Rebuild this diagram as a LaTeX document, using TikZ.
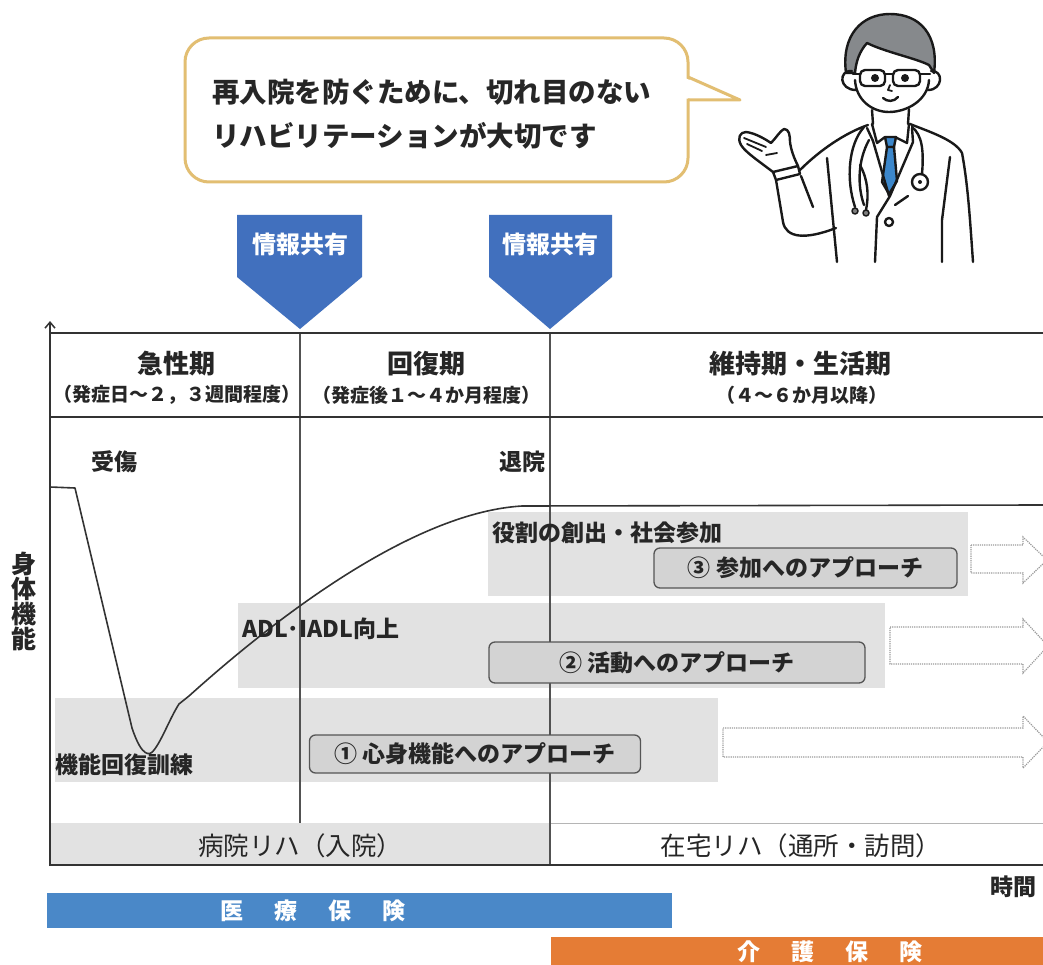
\documentclass[tikz,border=0pt]{standalone}
\usepackage{fontspec}
\setmainfont{Noto Sans CJK JP}
\usetikzlibrary{arrows.meta}

\definecolor{inkc}{HTML}{262626}
\definecolor{bubbleedge}{HTML}{E2BE72}
\definecolor{markblue}{HTML}{4170BE}
\definecolor{medblue}{HTML}{4A88C8}
\definecolor{careorange}{HTML}{E57C35}
\definecolor{bandgray}{HTML}{E2E2E2}
\definecolor{boxgray}{HTML}{D3D3D3}
\definecolor{boxedge}{HTML}{555555}
\definecolor{framec}{HTML}{333333}
\definecolor{hairgray}{HTML}{86898C}
\definecolor{tieblue}{HTML}{3C87CB}
\definecolor{arrowdot}{HTML}{9A9A9A}

\newcommand\setfs[1]{\fontsize{#1}{#1}\selectfont}

\tikzset{
  bubble/.style={draw=bubbleedge, line width=3pt, line join=round},
  bubtext/.style={inner sep=0pt, anchor=west, text=inkc, font=\bfseries\setfs{27.5}},
  marktext/.style={inner sep=0pt, text=white, font=\bfseries\setfs{24}},
  hdr/.style={inner sep=0pt, text=inkc, font=\bfseries\setfs{26}},
  subhdr/.style={inner sep=0pt, text=inkc, font=\bfseries\setfs{19}},
  lbl/.style={inner sep=0pt, text=inkc, font=\bfseries\setfs{23}},
  bottomlbl/.style={inner sep=0pt, text=inkc, font=\setfs{25.5}},
  band/.style={fill=bandgray},
  apbox/.style={draw=boxedge, fill=boxgray, rounded corners=6pt, line width=1.3pt,
    inner sep=0pt, text=inkc, font=\bfseries\setfs{23}},
  frameline/.style={draw=framec, line width=2pt},
  divider/.style={draw=framec!85, line width=1.3pt},
  curveline/.style={draw=framec, line width=1.6pt, line join=round},
  dotarrow/.style={draw=arrowdot, densely dotted, line width=1.2pt, fill=white},
  insbar/.style={inner sep=0pt, text=white, font=\bfseries\setfs{23}},
  doc/.style={line width=2.4pt, line cap=round, line join=round, draw=black!90},
}

\begin{document}
\begin{tikzpicture}[x=1pt,y=-1pt]
\useasboundingbox (0,0) rectangle (1043,965);
\clip (0,0) rectangle (1043,965);
\fill[white] (0,0) rectangle (1043,965);

% ---------- speech bubble ----------
\draw[bubble, rounded corners=24pt] (185,38) rectangle (688,182);
\fill[white] (686,78.5) -- (740,100) -- (686,98.5) -- cycle;
\draw[bubble] (688,77) -- (740,100) -- (688,100);
\node[bubtext] (bub1) at (212,92) {再入院を防ぐために、切れ目のない};
\node[bubtext] (bub2) at (212,136) {リハビリテーションが大切です};

% ---------- doctor ----------
\begin{scope}[doc]
  % hair
  \filldraw[fill=hairgray] (846,73) .. controls (841,35) and (862,14) .. (890,14)
     .. controls (920,14) and (939,35) .. (934,73) -- (929,65)
     .. controls (915,58) and (885,52) .. (867,43)
     .. controls (859,52) and (856,62) .. (855,73) -- cycle;
  % jaw and ears
  \draw (855,80) .. controls (856,100) and (872,112) .. (889,112)
        .. controls (907,112) and (928,100) .. (929,80);
  \draw (852,71) .. controls (838,70) and (839,90) .. (856,90);
  \draw (931,71) .. controls (944,70) and (943,90) .. (928,90);
  % glasses, eyes, nose, smile
  \draw[rounded corners=5pt] (860,70) rectangle (885,86);
  \draw[rounded corners=5pt] (893,70) rectangle (920,86);
  \draw (885,74) -- (893,74);
  \draw (860,74) -- (853,74);
  \draw (920,74) -- (930,74);
  \fill[black!90] (875,78) circle[radius=4pt];
  \fill[black!90] (905,78) circle[radius=4pt];
  \draw[line width=1.8pt] (890,85) -- (888,90) -- (892,91);
  \draw (883,98) .. controls (887,102) and (894,102) .. (898,97);
  % neck and collar
  \draw (872,110) -- (873,124);
  \draw (909,109) -- (908,124);
  \draw (872,124) -- (877,143) -- (885,137);
  \draw (909,124) -- (907,143) -- (895,137);
  % tie
  \filldraw[fill=tieblue] (885,137) -- (896,137) -- (894,147) -- (887,147) -- cycle;
  \filldraw[fill=tieblue] (887,147) -- (882,182) -- (889,194) -- (897,181) -- (894,147) -- cycle;
  % coat
  \draw (868,125) .. controls (845,133) and (820,150) .. (800,170);
  \draw (910,124) .. controls (930,132) and (955,140) .. (962,153)
        .. controls (968,185) and (970,220) .. (973,262);
  \draw (950,157) -- (942,220) -- (942,262);
  \draw (827,158) -- (837,262);
  \draw (867,128) -- (873,141) -- (889,196);
  \draw (912,128) -- (913,142) -- (890,196) -- (877,217) -- (875,262);
  \draw (895,205) -- (908,196);
  \draw (889,222) circle[radius=4pt];
  % raised hand and sleeve
  \draw (773,172) .. controls (760,162) and (745,152) .. (741,145)
        .. controls (737,138) and (740,132) .. (746,132)
        .. controls (755,133) and (765,139) .. (771,143)
        .. controls (776,138) and (780,131) .. (784,129)
        .. controls (789,129) and (790,135) .. (790,142)
        .. controls (791,150) and (794,158) .. (798,166);
  \draw[line width=1.8pt] (744,138) -- (766,147);
  \draw[line width=1.8pt] (747,144) -- (762,151);
  \draw[line width=1.8pt] (766,155) -- (777,153);
  \draw (773,172) -- (798,166) -- (800,174) -- (776,180) -- cycle;
  \draw (776,180) -- (783,222) .. controls (786,238) and (805,240) .. (836,228);
  \draw (801,176) -- (813,207);
  % stethoscope
  \draw (912,127) .. controls (922,135) and (924,150) .. (922,174);
  \draw (920,182) circle[radius=8pt];
  \fill[black!90] (920,182) circle[radius=2pt];
  \draw (864,127) .. controls (848,145) and (846,180) .. (855,207);
  \draw (869,140) .. controls (858,160) and (857,185) .. (864,205);
  \draw (860,165) .. controls (868,180) and (869,195) .. (866,210);
  \filldraw[fill=gray, line width=1.5pt] (855,211) circle[radius=3pt];
  \filldraw[fill=gray, line width=1.5pt] (866,213) circle[radius=3pt];
\end{scope}

% ---------- information sharing markers ----------
\fill[markblue] (237,215) -- (362,215) -- (362,277) -- (300,329) -- (237,277) -- cycle;
\node[marktext] (share1) at (300,244) {情報共有};
\fill[markblue] (489,215) -- (612,215) -- (612,277) -- (550,329) -- (489,277) -- cycle;
\node[marktext] (share2) at (550,244) {情報共有};

% ---------- grey activity bands ----------
\fill[band] (488,512) rectangle (968,596);
\fill[band] (238,603) rectangle (885,688);
\fill[band] (55,698) rectangle (718,782);
\fill[band] (50,823) rectangle (550,865);
\draw[bandgray!80!black, line width=0.6pt] (550,823) -- (1043,823);

% ---------- phase dividers ----------
\draw[divider] (300,333) -- (300,823);
\draw[divider] (550,333) -- (550,865);

% ---------- frame and axes ----------
\draw[frameline] (50,333) -- (1043,333);
\draw[frameline] (50,417) -- (1043,417);
\draw[frameline, -{Straight Barb[length=6pt,width=10pt,line width=1.5pt]}] (50,866) -- (50,321);
\draw[frameline, -{Straight Barb[length=6pt,width=10pt,line width=1.5pt]}] (49,865) -- (1052,865);

% ---------- recovery curve ----------
\draw[curveline] (50,487) -- (75,488) -- (132,728)
   .. controls (142,758) and (150,756) .. (154,750)
   .. controls (162,740) and (170,718) .. (179,704)
   -- (189,696) .. controls (290,605) and (420,512) .. (522,506) -- (1043,505);

% ---------- phase headings ----------
\node[hdr] (acute) at (176,364) {急性期};
\node[subhdr] (acutesub) at (177,395) {（発症日～２，３週間程度）};
\node[hdr] (recov) at (426,364) {回復期};
\node[subhdr] (recovsub) at (426,395) {（発症後１～４か月程度）};
\node[hdr] (maint) at (800,364) {維持期・生活期};
\node[subhdr] (maintsub) at (802,395) {（４～６か月以降）};

% ---------- curve annotations ----------
\node[lbl] (injury) at (114,462) {受傷};
\node[lbl] (discharge) at (522,462) {退院};
\node[lbl, anchor=west] (role) at (492,533) {役割の創出・社会参加};
\node[lbl, anchor=west] (adl) at (242,629) {ADL･IADL向上};
\node[lbl, anchor=west] (fxtrain) at (55,765) {機能回復訓練};

% ---------- continuation arrows ----------
\draw[dotarrow] (971,545) -- (1023,545) -- (1023,537) -- (1047,560) -- (1023,583) -- (1023,573) -- (971,573) -- cycle;
\draw[dotarrow] (890,627) -- (1023,627) -- (1023,619) -- (1048,646) -- (1023,673) -- (1023,664) -- (890,664) -- cycle;
\draw[dotarrow] (723,728) -- (1023,728) -- (1023,716) -- (1048,742) -- (1023,768) -- (1023,757) -- (723,757) -- cycle;

% ---------- approach boxes ----------
\node[apbox, minimum width=303pt, minimum height=40pt] (ap3) at (805.5,568) {③ 参加へのアプローチ};
\node[apbox, minimum width=376pt, minimum height=41pt] (ap2) at (677,662.5) {② 活動へのアプローチ};
\node[apbox, minimum width=331pt, minimum height=38pt] (ap1) at (475,754) {① 心身機能へのアプローチ};

% ---------- axis labels ----------
\node[lbl, font=\bfseries\setfs{25}, align=center] (ylbl) at (24,601)
  {\setfs{25}\baselineskip=34pt 身\\体\\機\\能};
\node[lbl, anchor=west] (timelbl) at (990,887) {時間};

% ---------- bottom settings ----------
\node[bottomlbl] (hosp) at (300,846) {病院リハ（入院）};
\node[bottomlbl] (home) at (801,846) {在宅リハ（通所・訪問）};

% ---------- insurance bars ----------
\fill[medblue] (47,893) rectangle (672,928);
\node[insbar] (medins) at (313,911) {医\hspace{31pt}療\hspace{31pt}保\hspace{31pt}険};
\fill[careorange] (551,937) rectangle (1043,975);
\node[insbar] (careins) at (830,952) {介\hspace{31pt}護\hspace{31pt}保\hspace{31pt}険};

\end{tikzpicture}
\end{document}
